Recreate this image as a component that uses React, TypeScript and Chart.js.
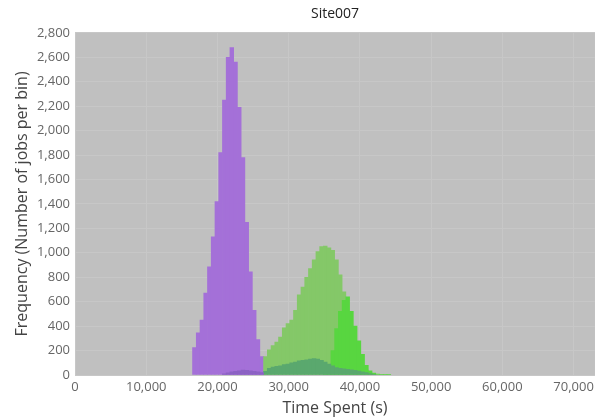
import React, { useEffect, useRef } from 'react';
import { Chart, registerables } from 'chart.js';

Chart.register(...registerables);

const CHART_TITLE = 'Site007';
const X_TITLE = 'Time Spent (s)';
const Y_TITLE = 'Frequency (Number of jobs per bin)';

// Histogram bin grid shared by every series
const BIN_START = 16500;
const BIN_WIDTH = 525;

// Axis ticks
const X_TICKS = [0, 10000, 20000, 30000, 40000, 50000, 60000, 70000];
const Y_TICKS = [0, 200, 400, 600, 800, 1000, 1200, 1400, 1600, 1800, 2000, 2200, 2400, 2600, 2800];

// Series: first bin index in the grid + counts per bin
const purpleStart = 0;
const purpleCounts = [225, 345, 450, 670, 885, 1130, 1420, 1820, 2250, 2600, 2680, 2560, 2190, 1780, 1250, 845, 530, 290, 150];

const darkPurpleStart = 8;
const darkPurpleCounts = [10, 18, 25, 30, 35, 40, 38, 35, 30, 25, 20];

const lightGreenStart = 19;
const lightGreenCounts = [150, 205, 240, 270, 310, 385, 420, 450, 530, 655, 720, 800, 870, 942, 1010, 1050, 1055, 1040, 1020, 942, 820, 680, 520, 380, 250, 150, 80, 40, 15];

const brightGreenStart = 35;
const brightGreenCounts = [20, 60, 200, 380, 520, 610, 640, 520, 400, 280, 170, 80, 35, 15, 8, 5, 3, 2];

const darkGreenStart = 19;
const darkGreenCounts = [30, 55, 65, 70, 75, 85, 90, 100, 105, 115, 120, 125, 130, 135, 130, 120, 105, 90, 75, 60, 55, 50, 46, 42, 38, 32, 26, 20, 12, 6];

function toPoints(start: number, counts: number[]) {
  return counts.map((y, i) => ({ x: BIN_START + (start + i + 0.5) * BIN_WIDTH, y }));
}

const plotBackground = {
  id: 'plotBackground',
  beforeDraw(chart: any) {
    const { ctx, chartArea: a } = chart;
    ctx.save();
    ctx.fillStyle = '#c0c0c0';
    ctx.fillRect(a.left, a.top, a.right - a.left, a.bottom - a.top);
    ctx.restore();
  },
};

const FONT = '"Open Sans", "Noto Sans", sans-serif';

export default function App() {
  const ref = useRef<HTMLCanvasElement | null>(null);

  useEffect(() => {
    document.body.style.margin = '0';
    if (!ref.current) return;
    const mk = (label: string, start: number, counts: number[], color: string) => ({
      label,
      data: toPoints(start, counts),
      backgroundColor: color,
      borderColor: color,
      borderWidth: 0,
      barPercentage: 1,
      categoryPercentage: 1,
      grouped: false,
    });
    const chart = new Chart(ref.current, {
      type: 'bar',
      data: {
        datasets: [
          mk('darkPurple', darkPurpleStart, darkPurpleCounts, 'rgb(140,98,196)'),
          mk('darkGreen', darkGreenStart, darkGreenCounts, 'rgb(90,168,110)'),
          mk('brightGreen', brightGreenStart, brightGreenCounts, 'rgb(88,214,64)'),
          mk('lightGreen', lightGreenStart, lightGreenCounts, 'rgb(132,200,104)'),
          mk('purple', purpleStart, purpleCounts, 'rgb(164,112,216)'),
        ] as any,
      },
      plugins: [plotBackground],
      options: {
        animation: false,
        responsive: true,
        maintainAspectRatio: false,
        layout: { padding: 0 },
        plugins: {
          legend: { display: false },
          tooltip: { enabled: false },
          title: {
            display: true,
            text: CHART_TITLE,
            fullSize: false,
            color: '#222',
            font: { family: FONT, size: 14, weight: 'normal' },
            padding: { top: 6, bottom: 10 },
          },
        },
        scales: {
          x: {
            type: 'linear',
            min: 0,
            max: 73000,
            offset: false,
            afterBuildTicks: (scale: any) => {
              scale.ticks = X_TICKS.map((v) => ({ value: v }));
            },
            afterFit: (scale: any) => {
              scale.height = 43;
            },
            ticks: {
              color: '#666',
              font: { family: FONT, size: 13 },
              padding: 4,
              maxRotation: 0,
              callback: (v: any) => Number(v).toLocaleString('en-US'),
            },
            grid: { color: '#c7c7c7', drawTicks: false, offset: false },
            border: { display: false },
            title: {
              display: true,
              text: X_TITLE,
              color: '#444',
              font: { family: FONT, size: 16 },
              padding: { top: 0, bottom: 0 },
            },
          },
          y: {
            type: 'linear',
            min: 0,
            max: 2800,
            afterBuildTicks: (scale: any) => {
              scale.ticks = Y_TICKS.map((v) => ({ value: v }));
            },
            afterFit: (scale: any) => {
              scale.width = 75;
            },
            ticks: {
              color: '#666',
              font: { family: FONT, size: 13 },
              padding: 5,
              callback: (v: any) => Number(v).toLocaleString('en-US'),
            },
            grid: { color: '#c7c7c7', drawTicks: false },
            border: { display: false },
            title: {
              display: true,
              text: Y_TITLE,
              color: '#444',
              font: { family: FONT, size: 16 },
              padding: { top: 13, bottom: 0 },
            },
          },
        },
      } as any,
    });
    return () => chart.destroy();
  }, []);

  return (
    <div style={{ width: 598, height: 418, position: 'relative' }}>
      <canvas ref={ref} />
    </div>
  );
}
